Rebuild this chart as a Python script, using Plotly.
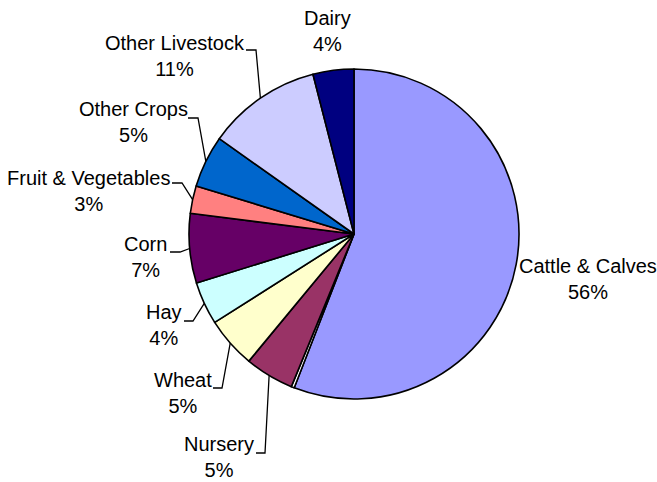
import math
import plotly.graph_objects as go

# slice data, clockwise from 12 o'clock
labels = ["Cattle & Calves", "", "Nursery", "Wheat", "Hay", "Corn",
          "Fruit & Vegetables", "Other Crops", "Other Livestock", "Dairy"]
values = [55.9, 0.3, 4.8, 5.0, 4.2, 6.8, 2.7, 5.1, 11.2, 4.0]
colors = ["#9999FF", "#FFFFFF", "#993366", "#FFFFCC", "#CCFFFF", "#660066",
          "#FF8080", "#0066CC", "#CCCCFF", "#000080"]

W, H = 657, 482
cx, cy, r = 354, 234, 165

# label block centres (px) and leader elbows (label end x, elbow x, y)
label_pos = {
    "Cattle & Calves": (588, 279), "Nursery": (219, 457), "Wheat": (183, 393),
    "Hay": (164, 325), "Corn": (145, 257), "Fruit & Vegetables": (88, 191),
    "Other Crops": (133, 122), "Other Livestock": (175, 56), "Dairy": (327, 31),
}
elbows = {
    "Nursery": (256, 265, 453), "Wheat": (213, 222, 388), "Hay": (184, 193, 321),
    "Corn": (170, 180, 252), "Fruit & Vegetables": (172, 182, 183),
    "Other Crops": (188, 198, 118), "Other Livestock": (246, 256, 50),
}

fig = go.Figure()
fig.add_trace(go.Pie(
    labels=[l if l else " " for l in labels], values=values, sort=False,
    direction="clockwise", rotation=0, textinfo="none", hoverinfo="skip",
    marker=dict(colors=colors, line=dict(color="black", width=1.6)),
    domain=dict(x=[(cx - r) / W, (cx + r) / W],
                y=[(H - cy - r) / H, (H - cy + r) / H]),
    showlegend=False,
))

total = sum(values)
lx, ly = [], []
cum = 0
annotations = []
for name, v in zip(labels, values):
    mid = (cum + v / 2) / total * 2 * math.pi
    cum += v
    if not name:
        continue
    pct = round(v / total * 100)
    x, y = label_pos[name]
    annotations.append(dict(x=x, y=y, xref="x", yref="y", showarrow=False,
                            text=f"{name}<br>{pct}%", align="center",
                            xanchor="center", yanchor="middle"))
    if name in elbows:
        x0, x1, ye = elbows[name]
        ex = cx + r * math.sin(mid)
        ey = cy - r * math.cos(mid)
        lx += [x0, x1, ex, None]
        ly += [ye, ye, ey, None]

fig.add_trace(go.Scatter(x=lx, y=ly, mode="lines", hoverinfo="skip",
                         line=dict(color="black", width=1.3), showlegend=False))

fig.update_layout(
    width=W, height=H, margin=dict(l=0, r=0, t=0, b=0),
    paper_bgcolor="white", plot_bgcolor="rgba(0,0,0,0)",
    font=dict(family="Liberation Sans, Arial, sans-serif", size=20, color="black"),
    xaxis=dict(range=[0, W], visible=False, fixedrange=True),
    yaxis=dict(range=[H, 0], visible=False, fixedrange=True),
    annotations=annotations,
)
# drop the default page margin so the chart sits flush in the window
fig.write_html("out.html", config={"displayModeBar": False},
               post_script="document.body.style.margin='0';")
